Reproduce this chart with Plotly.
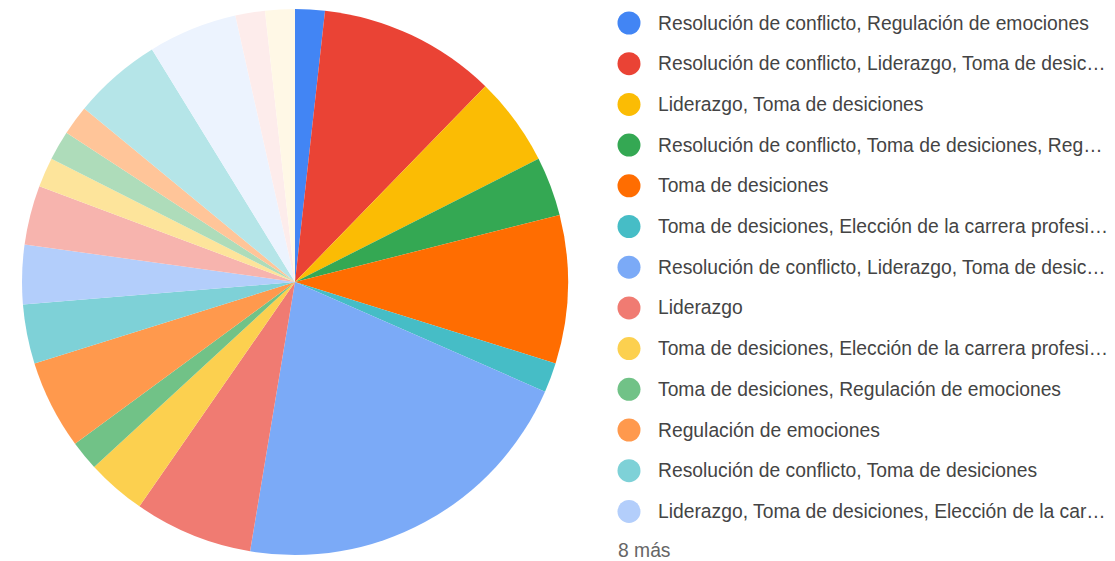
import plotly.graph_objects as go

# ---- data ----
labels = [
    "Resolución de conflicto, Regulación de emociones",
    "Resolución de conflicto, Liderazgo, Toma de desiciones",
    "Liderazgo, Toma de desiciones",
    "Resolución de conflicto, Toma de desiciones, Regulación de emociones",
    "Toma de desiciones",
    "Toma de desiciones, Elección de la carrera profesional",
    "Resolución de conflicto, Liderazgo, Toma de desiciones, Regulación de emociones",
    "Liderazgo",
    "Toma de desiciones, Elección de la carrera profesional, Regulación de emociones",
    "Toma de desiciones, Regulación de emociones",
    "Regulación de emociones",
    "Resolución de conflicto, Toma de desiciones",
    "Liderazgo, Toma de desiciones, Elección de la carrera profesional",
    "Resolución de conflicto",
    "Liderazgo, Regulación de emociones",
    "Resolución de conflicto, Liderazgo",
    "Elección de la carrera profesional",
    "Liderazgo, Toma de desiciones, Regulación de emociones",
    "Resolución de conflicto, Liderazgo, Toma de desiciones, Elección de la carrera profesional, Regulación de emociones",
    "Resolución de conflicto, Elección de la carrera profesional",
    "Liderazgo, Elección de la carrera profesional",
]
values = [1, 6, 3, 2, 5, 1, 12, 4, 2, 1, 3, 2, 2, 2, 1, 1, 1, 3, 3, 1, 1]
colors = [
    "#4285f4", "#ea4335", "#fbbc04", "#34a853", "#ff6d01", "#46bdc6",
    "#7baaf7", "#f07b72", "#fcd04f", "#71c287", "#ff994d", "#7ed1d7",
    "#b3cefb", "#f7b4ae", "#fde49b", "#aedcba", "#ffc599", "#b5e5e8",
    "#ecf3fe", "#fdeceb", "#fff8e6",
]
legend_text = [
    "Resolución de conflicto, Regulación de emociones",
    "Resolución de conflicto, Liderazgo, Toma de desic…",
    "Liderazgo, Toma de desiciones",
    "Resolución de conflicto, Toma de desiciones, Reg…",
    "Toma de desiciones",
    "Toma de desiciones, Elección de la carrera profesi…",
    "Resolución de conflicto, Liderazgo, Toma de desic…",
    "Liderazgo",
    "Toma de desiciones, Elección de la carrera profesi…",
    "Toma de desiciones, Regulación de emociones",
    "Regulación de emociones",
    "Resolución de conflicto, Toma de desiciones",
    "Liderazgo, Toma de desiciones, Elección de la car…",
]
more_text = "8 más"

W, H = 1115, 561

fig = go.Figure(go.Pie(
    labels=labels,
    values=values,
    marker=dict(colors=colors, line=dict(width=0)),
    sort=False,
    direction="clockwise",
    rotation=0,
    textinfo="none",
    showlegend=False,
    domain=dict(x=[22 / W, 568 / W], y=[6 / H, 552 / H]),
))

font = "Arial, Liberation Sans, sans-serif"
shapes = []
annotations = []
row0, step = 23, 40.7
for i, t in enumerate(legend_text):
    py = row0 + i * step
    yp = 1 - py / H
    shapes.append(dict(
        type="circle", xref="paper", yref="paper",
        xsizemode="pixel", ysizemode="pixel",
        xanchor=629 / W, yanchor=yp,
        x0=-11.5, x1=11.5, y0=-11.5, y1=11.5,
        fillcolor=colors[i], line=dict(width=0),
    ))
    annotations.append(dict(
        x=656 / W, y=yp, xref="paper", yref="paper",
        xanchor="left", yanchor="middle", showarrow=False,
        text=t, font=dict(family=font, size=19.3, color="#444444"),
    ))
annotations.append(dict(
    x=616 / W, y=1 - 550 / H, xref="paper", yref="paper",
    xanchor="left", yanchor="middle", showarrow=False,
    text=more_text, font=dict(family=font, size=19.3, color="#666666"),
))

fig.update_layout(
    width=W, height=H,
    margin=dict(l=0, r=0, t=0, b=0),
    paper_bgcolor="white", plot_bgcolor="white",
    shapes=shapes, annotations=annotations,
)

fig.write_html(
    "out.html",
    config={"displayModeBar": False},
    post_script="document.body.style.margin='0';document.body.style.overflow='hidden';",
)
